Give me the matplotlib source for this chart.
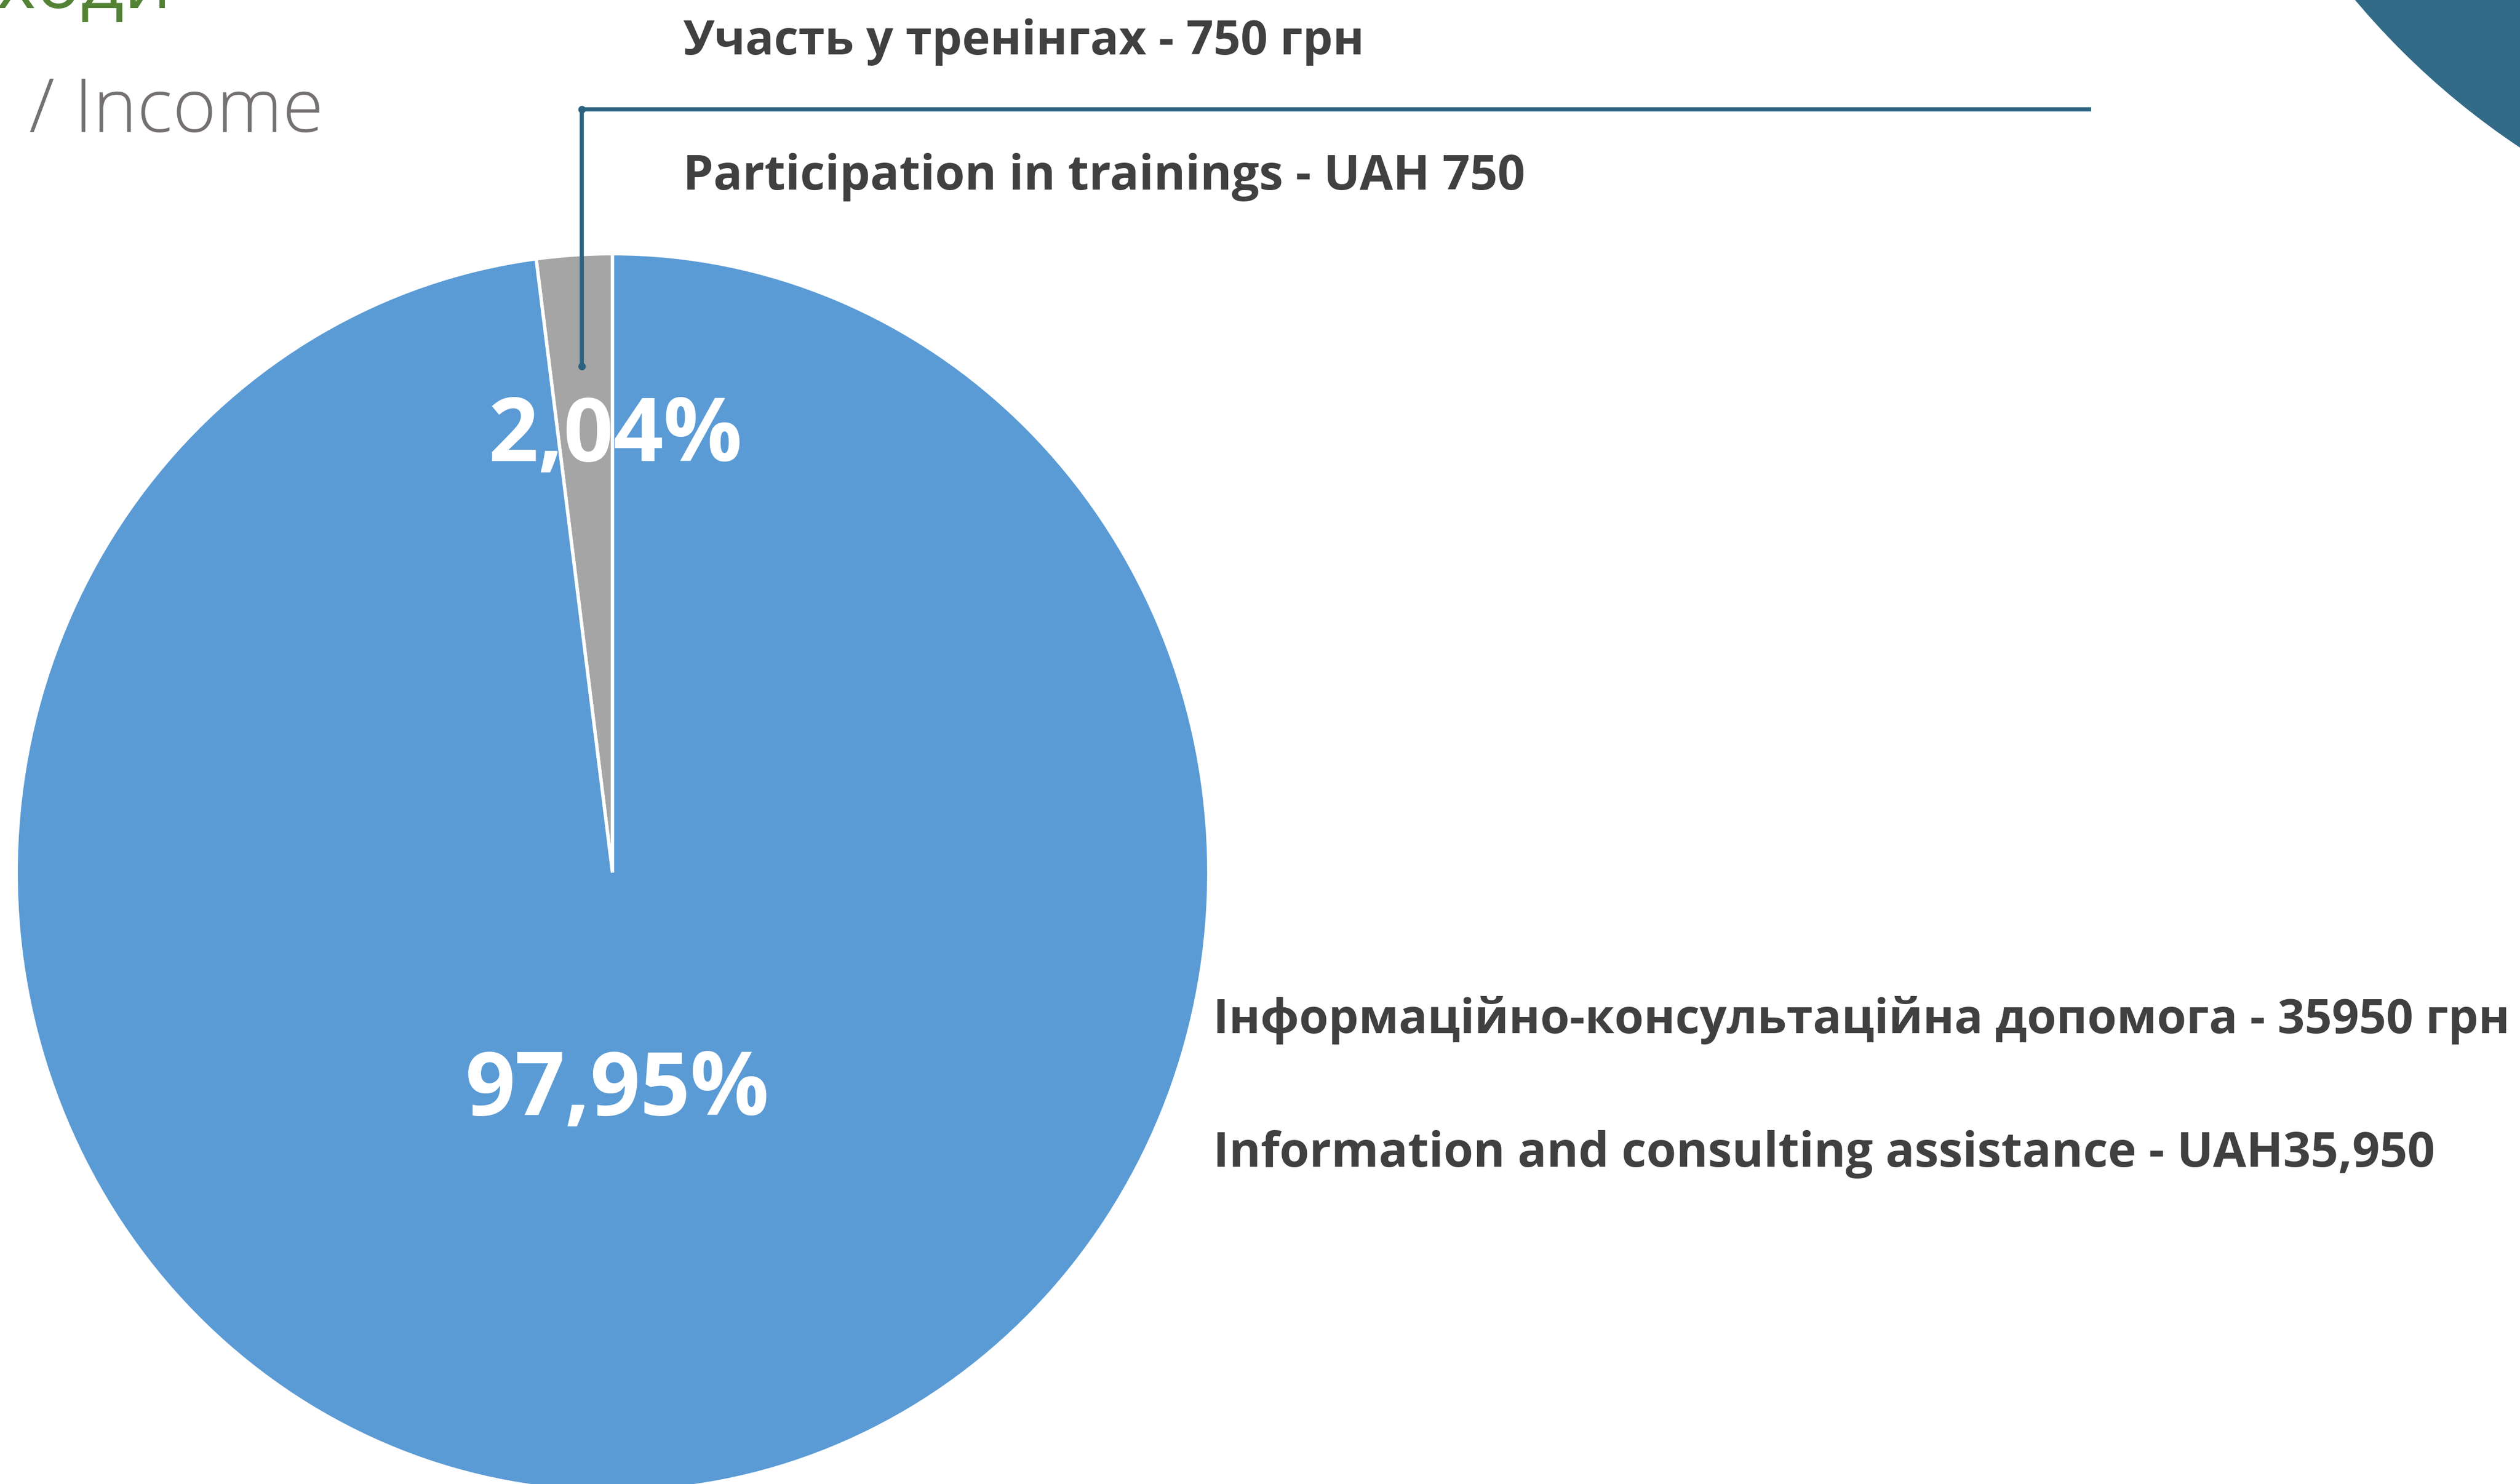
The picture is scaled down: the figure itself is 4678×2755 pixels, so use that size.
import matplotlib
matplotlib.use("Agg")
import matplotlib.pyplot as plt
from matplotlib.patches import Circle

# Income structure (values in UAH)
values = [750, 35950]
pct_labels = ["2,04%", "97,95%"]
labels_uk = ["Участь у тренінгах - 750 грн",
             "Інформаційно-консультаційна допомога - 35950 грн"]
labels_en = ["Participation in trainings - UAH 750",
             "Information and consulting assistance - UAH35,950"]
slice_colors = ["#A5A5A5", "#5B9BD5"]
title_uk = "Доходи"
title_en = "/ Income"

W, H = 4678, 2755
plt.rcParams['font.family'] = ['Open Sans', 'DejaVu Sans']

fig = plt.figure(figsize=(W / 100, H / 100), dpi=100)
fig.patch.set_facecolor('white')

# pie drawn in its own axes, slightly stretched vertically like the slide
cx, cy, rx, ry = 1137, 1620, 1107, 1149
ax_pie = fig.add_axes([(cx - rx) / W, (H - (cy + ry)) / H, 2 * rx / W, 2 * ry / H])
ax_pie.pie(values, colors=slice_colors, startangle=90, counterclock=True,
           radius=1, wedgeprops=dict(edgecolor='white', linewidth=4.5))
ax_pie.set_aspect('auto')
ax_pie.set_xlim(-1, 1)
ax_pie.set_ylim(-1, 1)
ax_pie.axis('off')

# overlay in pixel coordinates for annotations
ax = fig.add_axes([0, 0, 1, 1])
ax.set_xlim(0, W)
ax.set_ylim(H, 0)
ax.axis('off')
ax.patch.set_alpha(0)

# decorative circle top right
ax.add_patch(Circle((5480, -930), 1446, color='#326B87', zorder=1))

# titles (cut by slide edge, as in the source slide)
ax.text(318, 15, title_uk, ha='right', va='baseline', fontsize=100,
        color='#548235')
ax.text(54, 245, title_en, ha='left', va='baseline', fontsize=100,
        color='#767171', fontweight='light')

# percentage labels
ax.text(1143, 856, pct_labels[0], ha='center', va='baseline', fontsize=117,
        color='white', fontweight='bold', zorder=5)
ax.text(1146, 2070, pct_labels[1], ha='center', va='baseline', fontsize=117,
        color='white', fontweight='bold', zorder=5)

# leader line for the small slice
line_color = '#2C6380'
ax.plot([1080, 1080, 3878], [680, 203, 203], color=line_color, lw=5.5,
        solid_joinstyle='miter', zorder=4)
ax.plot([1080, 1080], [680, 203], 'o', color=line_color, ms=9, zorder=4)

# category labels
txt = '#404040'
ax.text(1268, 101, labels_uk[0], ha='left', va='baseline', fontsize=63.5,
        color=txt, fontweight='bold')
ax.text(1268, 352, labels_en[0], ha='left', va='baseline', fontsize=64.5,
        color=txt, fontweight='bold')
ax.text(2252, 1918, labels_uk[1], ha='left', va='baseline', fontsize=63.5,
        color=txt, fontweight='bold')
ax.text(2252, 2166, labels_en[1], ha='left', va='baseline', fontsize=64.5,
        color=txt, fontweight='bold')

fig.savefig('out.png', dpi=100, facecolor='white')
